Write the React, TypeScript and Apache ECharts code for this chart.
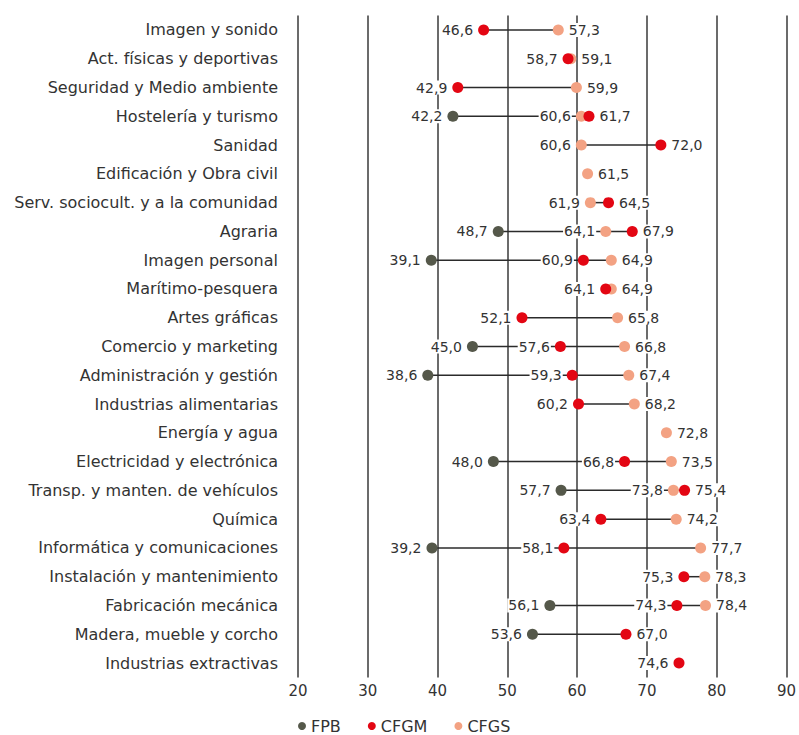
import React, { useEffect, useRef } from "react";
import * as echarts from "echarts";

const categories = [
  "Imagen y sonido",
  "Act. físicas y deportivas",
  "Seguridad y Medio ambiente",
  "Hostelería y turismo",
  "Sanidad",
  "Edificación y Obra civil",
  "Serv. sociocult. y a la comunidad",
  "Agraria",
  "Imagen personal",
  "Marítimo-pesquera",
  "Artes gráficas",
  "Comercio y marketing",
  "Administración y gestión",
  "Industrias alimentarias",
  "Energía y agua",
  "Electricidad y electrónica",
  "Transp. y manten. de vehículos",
  "Química",
  "Informática y comunicaciones",
  "Instalación y mantenimiento",
  "Fabricación mecánica",
  "Madera, mueble y corcho",
  "Industrias extractivas",
];

const fpbValues: (number | null)[] = [
  null, null, null, 42.2, null, null, null, 48.7, 39.1, null, null, 45.0,
  38.6, null, null, 48.0, 57.7, null, 39.2, null, 56.1, 53.6, null,
];
const cfgmValues: (number | null)[] = [
  46.6, 58.7, 42.9, 61.7, 72.0, null, 64.5, 67.9, 60.9, 64.1, 52.1, 57.6,
  59.3, 60.2, null, 66.8, 75.4, 63.4, 58.1, 75.3, 74.3, 67.0, 74.6,
];
const cfgsValues: (number | null)[] = [
  57.3, 59.1, 59.9, 60.6, 60.6, 61.5, 61.9, 64.1, 64.9, 64.9, 65.8, 66.8,
  67.4, 68.2, 72.8, 73.5, 73.8, 74.2, 77.7, 78.3, 78.4, null, null,
];

const seriesNames = ["FPB", "CFGM", "CFGS"];
const xTicks = { min: 20, max: 90, interval: 10 };
const leftLabelSingles = ["Industrias extractivas"];

const COLORS = ["#55584a", "#e30613", "#f3a283"];
const SERIES_Z = [3, 5, 4];
const TEXT = "#333333";
const FONT = "DejaVu Sans";

export default function App() {
  const ref = useRef<HTMLDivElement>(null);

  useEffect(() => {
    if (!ref.current) return;
    const chart = echarts.init(ref.current, undefined, { renderer: "svg" });
    const all = [fpbValues, cfgmValues, cfgsValues];

    const rowVals = (i: number) =>
      all.map((a) => a[i]).filter((v) => v != null) as number[];

    const fmt = (v: number) => v.toFixed(1).replace(".", ",");

    const pointSeries = all.map((arr, si) => ({
      name: seriesNames[si],
      type: "scatter",
      z: SERIES_Z[si],
      symbol: "circle",
      symbolSize: 11,
      itemStyle: { color: COLORS[si], opacity: 1 },
      data: arr
        .map((v, i) => {
          if (v == null) return null;
          const vals = rowVals(i);
          const mx = Math.max(...vals);
          let pos = v === mx ? "right" : "left";
          if (vals.length === 1) pos = leftLabelSingles.includes(categories[i]) ? "left" : "right";
          return {
            value: [v, categories[i]],
            label: { position: pos },
          };
        })
        .filter((d) => d != null),
      label: {
        show: true,
        distance: 4,
        formatter: (p: any) => fmt(p.value[0]),
        fontFamily: FONT,
        fontSize: 14,
        color: TEXT,
        backgroundColor: "#ffffff",
        padding: [0, 1],
      },
    }));

    const lineData = categories
      .map((c, i) => {
        const vals = rowVals(i);
        if (vals.length < 2) return null;
        return [Math.min(...vals), Math.max(...vals), i];
      })
      .filter((d) => d != null);

    chart.setOption({
      animation: false,
      textStyle: { fontFamily: FONT },
      grid: { left: 298, right: 7, top: 15.6, bottom: 57.6, containLabel: false },
      xAxis: {
        type: "value",
        min: xTicks.min,
        max: xTicks.max,
        interval: xTicks.interval,
        axisLine: { show: false },
        axisTick: { show: false },
        splitLine: { show: true, lineStyle: { color: "#3a3a3a", width: 1.5 } },
        axisLabel: { fontFamily: FONT, fontSize: 15, color: TEXT, margin: 6 },
      },
      yAxis: {
        type: "category",
        data: categories,
        inverse: true,
        axisLine: { show: false },
        axisTick: { show: false },
        splitLine: { show: false },
        axisLabel: { fontFamily: FONT, fontSize: 16, color: TEXT, margin: 20 },
      },
      legend: {
        data: seriesNames,
        left: 298,
        top: 718,
        padding: 0,
        icon: "circle",
        itemWidth: 8,
        itemHeight: 8,
        itemGap: 27,
        textStyle: { fontFamily: FONT, fontSize: 16, color: TEXT },
      },
      series: [
        {
          type: "custom",
          name: "range",
          z: 2,
          encode: { x: [0, 1], y: 2 },
          data: lineData,
          renderItem: (params: any, api: any) => {
            const y = api.value(2);
            const p1 = api.coord([api.value(0), y]);
            const p2 = api.coord([api.value(1), y]);
            return {
              type: "line",
              shape: { x1: p1[0], y1: p1[1], x2: p2[0], y2: p2[1] },
              style: { stroke: "#2b2b2b", lineWidth: 1.5 },
            };
          },
        },
        ...pointSeries,
      ],
    });

    return () => chart.dispose();
  }, []);

  return (
    <div
      ref={ref}
      style={{ position: "absolute", left: 0, top: 0, width: 799, height: 735 }}
    />
  );
}
